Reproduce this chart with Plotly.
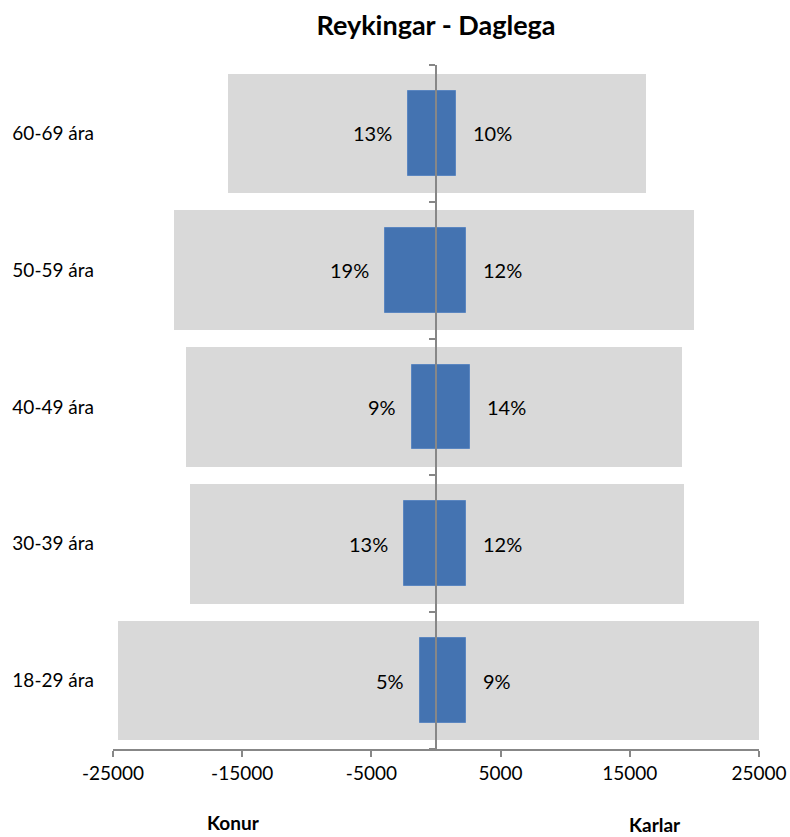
import plotly.graph_objects as go

categories = ["18-29 ára", "30-39 ára", "40-49 ára", "50-59 ára", "60-69 ára"]
konur_total = [24600, 19050, 19350, 20300, 16100]
karlar_total = [25100, 19200, 19050, 19950, 16250]
konur_smoke = [1240, 2480, 1860, 3950, 2150]
karlar_smoke = [2320, 2320, 2630, 2330, 1560]
konur_pct = ["5%", "13%", "9%", "19%", "13%"]
karlar_pct = ["9%", "12%", "14%", "12%", "10%"]
x_ticks = [-25000, -15000, -5000, 5000, 15000, 25000]
x_range = [-25000, 25000]

GRAY = "#D9D9D9"
BLUE = "#4473B1"
AXIS = "#878787"
FONT = "Lato"

fig = go.Figure()
fig.add_trace(go.Bar(y=categories, x=[-v for v in konur_total], orientation="h",
                     marker=dict(color=GRAY, line=dict(width=0)), width=0.875,
                     name="Konur alls", hoverinfo="skip"))
fig.add_trace(go.Bar(y=categories, x=karlar_total, orientation="h",
                     marker=dict(color=GRAY, line=dict(width=0)), width=0.875,
                     name="Karlar alls", hoverinfo="skip"))
fig.add_trace(go.Bar(y=categories, x=[-v for v in konur_smoke], orientation="h",
                     marker=dict(color=BLUE, line=dict(color="#5B86C0", width=1)), width=0.62,
                     name="Konur", hoverinfo="skip"))
fig.add_trace(go.Bar(y=categories, x=karlar_smoke, orientation="h",
                     marker=dict(color=BLUE, line=dict(color="#5B86C0", width=1)), width=0.62,
                     name="Karlar", hoverinfo="skip"))

n = len(categories)
# invisible helper trace so the centre axis is drawn
fig.add_trace(go.Scatter(x=[x_range[0]], y=[-0.5], yaxis="y2", mode="markers",
                         marker=dict(opacity=0), showlegend=False, hoverinfo="skip"))

annotations = []
for cat, kv, mv, kp, mp in zip(categories, konur_smoke, karlar_smoke, konur_pct, karlar_pct):
    annotations.append(dict(x=-kv, y=cat, xref="x", yref="y", text=kp, showarrow=False,
                            xanchor="right", xshift=-14, font=dict(family=FONT, size=20, color="#000")))
    annotations.append(dict(x=mv, y=cat, xref="x", yref="y", text=mp, showarrow=False,
                            xanchor="left", xshift=15, font=dict(family=FONT, size=20, color="#000")))

annotations.append(dict(x=0.186, y=-0.107, xref="paper", yref="paper", text="<b>Konur</b>",
                        xanchor="center", yanchor="middle",
                        showarrow=False, font=dict(family=FONT, size=19, color="#000")))
annotations.append(dict(x=0.839, y=-0.111, xref="paper", yref="paper", text="<b>Karlar</b>",
                        xanchor="center", yanchor="middle",
                        showarrow=False, font=dict(family=FONT, size=19, color="#000")))

zero_pos = (0 - x_range[0]) / (x_range[1] - x_range[0])

fig.update_layout(
    width=790, height=837,
    margin=dict(l=113, r=31, t=65, b=88, pad=0, autoexpand=False),
    plot_bgcolor="white", paper_bgcolor="white",
    barmode="overlay", bargap=0,
    showlegend=False,
    title=dict(text="<b>Reykingar - Daglega</b>", x=0.5, xref="paper", xanchor="center",
               y=1 - 26 / 837, yref="container", yanchor="middle",
               font=dict(family=FONT, size=27, color="#000")),
    font=dict(family=FONT, size=19, color="#000"),
    xaxis=dict(range=x_range, tickvals=x_ticks, ticktext=[str(t) for t in x_ticks],
               ticks="outside", ticklen=6, tickwidth=2, tickcolor=AXIS,
               showline=True, linecolor=AXIS, linewidth=2, automargin=False,
               showgrid=False, zeroline=False,
               tickfont=dict(family=FONT, size=19, color="#000")),
    yaxis=dict(type="category", categoryorder="array", categoryarray=categories,
               range=[-0.5, n - 0.5], showline=False, ticks="", showgrid=False,
               zeroline=False, ticklabelstandoff=18, automargin=False,
               tickfont=dict(family=FONT, size=19, color="#000")),
    yaxis2=dict(overlaying="y", anchor="free", position=zero_pos, side="left",
                range=[-0.5, n - 0.5], tickvals=[i - 0.5 for i in range(n + 1)],
                showticklabels=False, ticks="outside", ticklen=6, tickwidth=2,
                tickcolor=AXIS, showline=True, linecolor=AXIS, linewidth=2,
                showgrid=False, zeroline=False, layer="above traces", automargin=False),
    annotations=annotations,
)

fig.write_html("out.html", config={"displayModeBar": False},
               post_script="document.body.style.margin='0';document.body.style.overflow='hidden';")
